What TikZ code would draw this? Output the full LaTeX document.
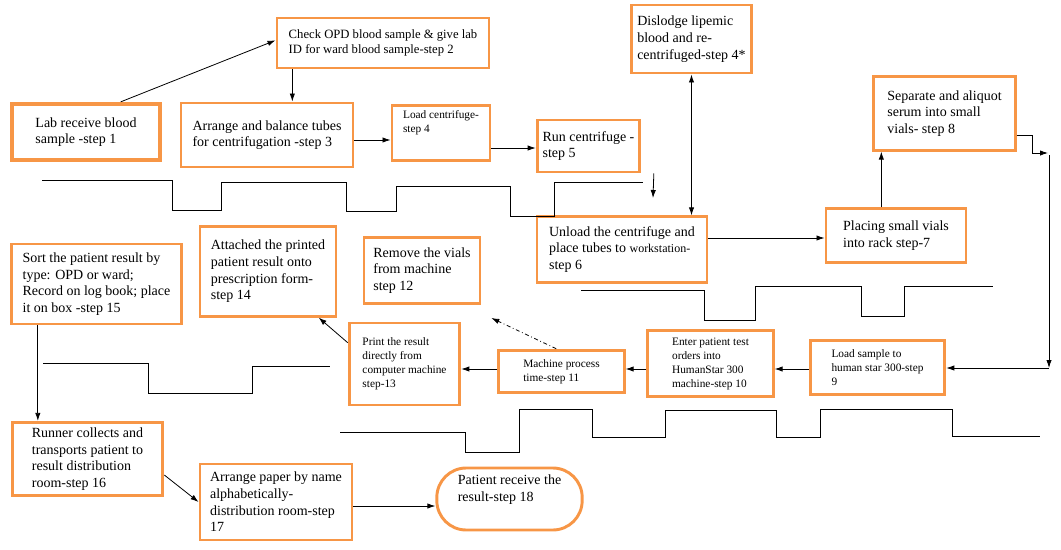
\documentclass[tikz,border=0pt]{standalone}
\usepackage{fontspec}
\setmainfont{Liberation Serif}
\usetikzlibrary{arrows.meta}
\definecolor{boxorange}{RGB}{247,150,70}
\tikzset{
  box/.style={draw=boxorange, line width=2.2pt, align=left, inner sep=4pt,
    font=\fontsize{10.5}{12.5}\selectfont},
  small/.style={font=\fontsize{8.5}{10.5}\selectfont},
  arr/.style={-{Latex[length=6pt,width=4pt]}, line width=0.6pt},
  wave/.style={line width=0.7pt},
}
\begin{document}
\begin{tikzpicture}[x=0.75pt,y=-0.75pt]
      \useasboundingbox (0,0) rectangle (1061,550);
      \node[box, line width=3.2pt, minimum width=111pt, minimum height=42pt] (b1) at (86,132) {Lab receive blood\\sample -step 1};
      \node[box, font=\fontsize{9.5}{11.5}\selectfont, minimum width=159pt, minimum height=37.5pt] (b2) at (383,43) {Check OPD blood sample \& give lab\\ID for ward blood sample-step 2};
      \node[box, minimum width=129pt, minimum height=48pt] (b3) at (267,135) {Arrange and balance tubes\\for centrifugation -step 3};
      \node[box, small, minimum width=73.5pt, minimum height=37.5pt] (b4) at (441,133) {Load centrifuge-\\step 4\\[6pt]};
      \node[box, minimum width=77pt, minimum height=39pt] (b5) at (588.5,146) {Run centrifuge -\\step 5};
      \node[box, minimum width=80pt, minimum height=51pt] (b4s) at (691.5,39) {Dislodge lipemic\\blood and re-\\centrifuged-step 4*};
      \node[box, minimum width=127.5pt, minimum height=49pt] (b6) at (622,249.5) {Unload the centrifuge and\\place tubes to {\small workstation-}\\step 6};
      \node[box, minimum width=106pt, minimum height=55pt] (b8) at (944.5,113.5) {Separate and aliquot\\serum into small\\vials- step 8};
      \node[box, minimum width=105pt, minimum height=40pt] (b7) at (896,235.5) {Placing small vials\\into rack step-7};
      \node[box, small, minimum width=101pt, minimum height=41pt] (b9) at (877.5,367.5) {Load sample to\\human star 300-step\\9};
      \node[box, small, minimum width=94pt, minimum height=50pt] (b10) at (710.5,363.5) {Enter patient test\\orders into\\HumanStar 300\\machine-step 10};
      \node[box, small, minimum width=94pt, minimum height=32pt] (b11) at (561.5,371.5) {Machine process\\time-step 11};
      \node[box, small, minimum width=83pt, minimum height=61.5pt] (b13) at (404.5,364) {Print the result\\directly from\\computer machine\\step-13};
      \node[box, minimum width=87pt, minimum height=49pt] (b12) at (422,270.5) {Remove the vials\\from machine\\step 12};
      \node[box, minimum width=102pt, minimum height=67pt] (b14) at (268,271.5) {Attached the printed\\patient result onto\\prescription form-\\step 14};
      \node[box, minimum width=127pt, minimum height=60pt] (b15) at (96.5,284) {Sort the patient result by\\type: OPD or ward;\\Record on log book; place\\it on box -step 15};
      \node[box, minimum width=113pt, minimum height=52.5pt] (b16) at (87.5,459) {Runner collects and\\transports patient to\\result distribution\\room-step 16};
      \node[box, minimum width=114pt, minimum height=57pt] (b17) at (276,502) {Arrange paper by name\\alphabetically-\\distribution room-step\\17};
      \node[box, rounded corners=22pt, minimum width=109pt, minimum height=46.5pt] (b18) at (509.5,499) {Patient receive the\\result-step 18\\[4pt]};
      % connectors
      \coordinate (y34) at (0,140);
      \coordinate (y45) at (0,148);
      \coordinate (y67) at (0,238);
      \coordinate (y913) at (0,369);
      \coordinate (y1718) at (0,506);
      \draw[arr] ([xshift=26pt]b1.north) -- ([yshift=2pt]b2.west);
      \coordinate (c2) at ([xshift=-68pt]b2.south);
      \draw[arr] (c2) -- (c2|-b3.north);
      \draw[arr] (b3.east|-y34) -- (b4.west|-y34);
      \draw[arr] (b4.east|-y45) -- (b5.west|-y45);
      \coordinate (c56) at (653,198);
      \draw[arr] ([xshift=49pt]b5.south) -- (c56);
      \draw[{Latex[length=6pt,width=4pt]}-{Latex[length=6pt,width=4pt]}, line width=0.6pt] (b4s.south) -- (b4s.south|-b6.north);
      \draw[arr] (b6.east|-y67) -- (b7.west|-y67);
      \draw[arr] ([xshift=-11pt]b7.north) -- ([xshift=-11pt]b7.north|-b8.south);
      \coordinate (c8a) at (1032,135);
      \coordinate (c8b) at (1048,153);
      \coordinate (c8c) at (1049,155);
      \coordinate (c8d) at (1049,368);
      \draw[arr] (b8.east|-c8a) -- (c8a) |- (c8b);
      \draw[arr] (c8c) -- (c8d);
      \draw[arr] (c8d) -- (b9.east|-c8d);
      \draw[arr] (b9.west|-y913) -- (b10.east|-y913);
      \draw[arr] (b10.west|-y913) -- (b11.east|-y913);
      \draw[arr] (b11.west|-y913) -- (b13.east|-y913);
      \draw[arr, dash dot] ([xshift=-4pt]b11.north) -- ([xshift=52pt,yshift=-10pt]b12.south);
      \draw[arr] ([yshift=16pt]b13.west) -- ([xshift=38pt]b14.south);
      \draw[arr] ([xshift=-44pt]b15.south) -- ([xshift=-44pt]b15.south|-b16.north);
      \draw[arr] ([yshift=-12pt]b16.east) -- ([yshift=0pt]b17.west);
      \draw[arr] (b17.east|-y1718) -- (b18.west|-y1718);
      % step lines
      \draw[wave] (42,180) -- (172,180) -- (172,210) -- (221,210) -- (221,182) -- (346,182) -- (346,211) -- (396,211) -- (396,186) -- (510,186) -- (510,216) -- (554,216) -- (554,182) -- (643,182);
      \draw[wave] (581,290) -- (704,290) -- (704,320) -- (755,320) -- (755,286) -- (861,286) -- (861,316) -- (904,316) -- (904,286) -- (993,286);
      \draw[wave] (43,363) -- (148,363) -- (148,393) -- (252,393) -- (252,366) -- (330,366);
      \draw[wave] (340,432) -- (465,432) -- (465,452) -- (519,452) -- (519,409) -- (592,409) -- (592,437) -- (665,437) -- (665,410) -- (776,410) -- (776,437) -- (820,437) -- (820,409) -- (952,409) -- (952,436) -- (1040,436);
    \end{tikzpicture}
\end{document}
